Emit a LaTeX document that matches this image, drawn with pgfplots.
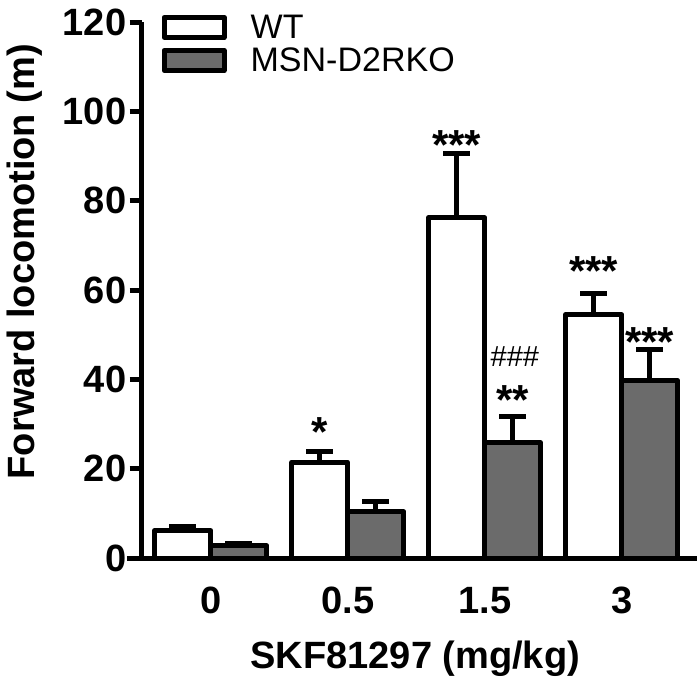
\documentclass[border=0pt]{standalone}
\usepackage{fontspec}
\setmainfont{Liberation Sans}
\usepackage{pgfplots}
\pgfplotsset{compat=1.18}
\usetikzlibrary{calc}
\definecolor{kogray}{HTML}{6B6B6B}

\pgfplotstableread{
x  y     err
0  6.2   0.9
1  21.5  2.4
2  76.2  14.4
3  54.5  4.8
}\wtdata
\pgfplotstableread{
x  y     err
0  2.8   0.6
1  10.4  2.2
2  25.8  6.0
3  39.8  7.0
}\kodata

\begin{document}
\begin{tikzpicture}
\begin{axis}[
    name=ax,
    scale only axis, width=555pt, height=536pt,
    xmin=-0.5036, xmax=3.5496, ymin=0, ymax=120,
    axis x line*=bottom, axis y line*=left,
    axis line style={line width=5pt, -},
    ytick={0,20,...,120},
    xtick={0,1,2,3}, xticklabels={0,0.5,1.5,3},
    tick align=outside, major tick length=12pt,
    tick style={line width=5pt, black},
    x tick style={draw=none},
    /pgf/number format/assume math mode=true,
    yticklabel style={font=\bfseries\fontsize{38}{38}\selectfont},
    xticklabel style={font=\bfseries\fontsize{38}{38}\selectfont, anchor=base, yshift=-43pt},
    every axis y label/.style={at={(rel axis cs:-0.211,0.553)}, rotate=90, anchor=center},
    every axis x label/.style={at={(rel axis cs:0.4925,-0.205)}, anchor=base},
    label style={font=\bfseries\fontsize{38}{38}\selectfont},
    ylabel={Forward locomotion (m)},
    xlabel={SKF81297 (mg/kg)},
    ybar=0pt, bar width=56pt,
    clip=false,
    legend style={draw=none, fill=none, at={(rel axis cs:0.03,1.021)}, anchor=north west,
        font=\fontsize{34}{34}\selectfont, row sep=4pt,
        /tikz/every odd column/.append style={column sep=22pt}},
    legend cell align=left,
    legend image code/.code={\draw[#1, line width=5pt] (0pt,-10pt) rectangle (60pt,10pt);},
    error bars/y dir=plus, error bars/y explicit,
    error bars/error mark=|,
    error bars/error bar style={line width=5pt, black},
    error bars/error mark options={line width=5pt, black, mark size=13.5pt},
]
\addplot[draw=black, fill=white, line width=5pt, line join=round] table[x=x, y=y, y error=err] {\wtdata};
\addplot[draw=black, fill=kogray, line width=5pt, line join=round] table[x=x, y=y, y error=err] {\kodata};
\legend{WT, MSN-D2RKO}

\begin{scope}[every node/.style={font=\bfseries\fontsize{42}{42}\selectfont, anchor=base, inner sep=0pt}]
\node at (axis cs:0.7955,25.1) {*};
\node at (axis cs:1.7955,89.3) {***};
\node at (axis cs:2.7955,61.1) {***};
\node at (axis cs:3.2045,45.2) {***};
\node at (axis cs:2.2045,32.2) {**};
\node[font=\fontsize{29}{29}\selectfont] at (axis cs:2.22,42.8) {\#\#\#};
\end{scope}
\end{axis}
\draw[line width=5pt] ($(ax.south west)+(-15pt,0)$) -- (ax.south west);
\pgfresetboundingbox
\useasboundingbox ($(ax.south west)+(-141.7pt,-125pt)$) rectangle ($(ax.north east)+(0pt,22pt)$);
\end{tikzpicture}
\end{document}
